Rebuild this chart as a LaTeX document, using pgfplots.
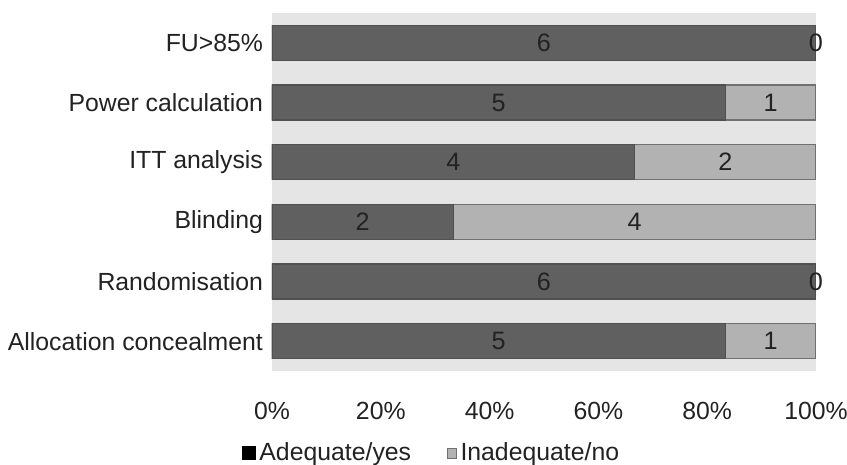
\documentclass[border=0pt]{standalone}
\usepackage{pgfplots}
\pgfplotsset{compat=1.18}
\usepackage{fontspec}
\setmainfont{Liberation Sans}
\definecolor{darkbar}{HTML}{606060}
\definecolor{darkedge}{HTML}{505050}
\definecolor{lightbar}{HTML}{B2B2B2}
\definecolor{lightedge}{HTML}{707070}
\definecolor{bgc}{HTML}{E5E5E5}
\definecolor{txt}{HTML}{222222}
\begin{document}
\begin{tikzpicture}
\begin{axis}[
  name=ax,
  scale only axis,
  width=272pt, height=179pt,
  xmin=0, xmax=100, ymin=-0.5, ymax=5.5,
  axis background/.style={fill=bgc},
  axis line style={draw=none},
  major tick length=0pt,
  xtick={0,20,40,60,80,100},
  xticklabel={\pgfmathprintnumber{\tick}\%},
  /pgf/number format/assume math mode=true,
  ytick={0,1,2,3,4,5},
  yticklabels={Allocation concealment,Randomisation,Blinding,ITT analysis,Power calculation,FU>85\%},
  tick label style={font=\fontsize{12.4}{14}\selectfont, text=txt},
  xticklabel style={yshift=-12pt},
  yticklabel style={xshift=-1pt},
  xbar, bar width=17.5pt, bar shift=0pt,
  legend style={at={(0.295,-0.177)}, anchor=north, draw=none, fill=none,
    font=\fontsize{12.4}{14}\selectfont, text=txt, legend columns=2,
    /tikz/every even column/.append style={column sep=16pt}},
  legend cell align=left,
]
% light (inadequate) bars drawn as full width behind
\addplot[fill=lightbar, draw=lightedge, line width=0.6pt, forget plot] coordinates {
  (100,0) (100,2) (100,3) (100,4)};
% dark (adequate) bars: percentage of 6
\addplot[fill=darkbar, draw=darkedge, line width=0.6pt, forget plot] coordinates {
  (83.333,0) (100,1) (33.333,2) (66.667,3) (83.333,4) (100,5)};
% value labels
\addplot[only marks, mark=none, forget plot, nodes near coords, point meta=explicit symbolic,
  every node near coord/.style={anchor=center, font=\fontsize{12.6}{14}\selectfont, text=txt}]
  coordinates {
  (41.667,0)[5] (91.667,0)[1]
  (50,1)[6] (100,1)[0]
  (16.667,2)[2] (66.667,2)[4]
  (33.333,3)[4] (83.333,3)[2]
  (41.667,4)[5] (91.667,4)[1]
  (50,5)[6] (100,5)[0]};
\addlegendimage{legend image code/.code={\fill[black] (0pt,-3.2pt) rectangle (6.4pt,3.2pt);}}
\addlegendentry{Adequate/yes}
\addlegendimage{legend image code/.code={\fill[lightbar] (1.5pt,-2.3pt) rectangle (5.8pt,2.3pt);\draw[lightedge,line width=0.3pt] (1.5pt,-2.3pt) rectangle (5.8pt,2.3pt);}}
\addlegendentry{Inadequate/no}
\end{axis}
\pgfresetboundingbox
\path[use as bounding box] ([shift={(-136pt,-47pt)}]ax.south west) rectangle ([shift={(15.5pt,6.5pt)}]ax.north east);
\end{tikzpicture}
\end{document}
